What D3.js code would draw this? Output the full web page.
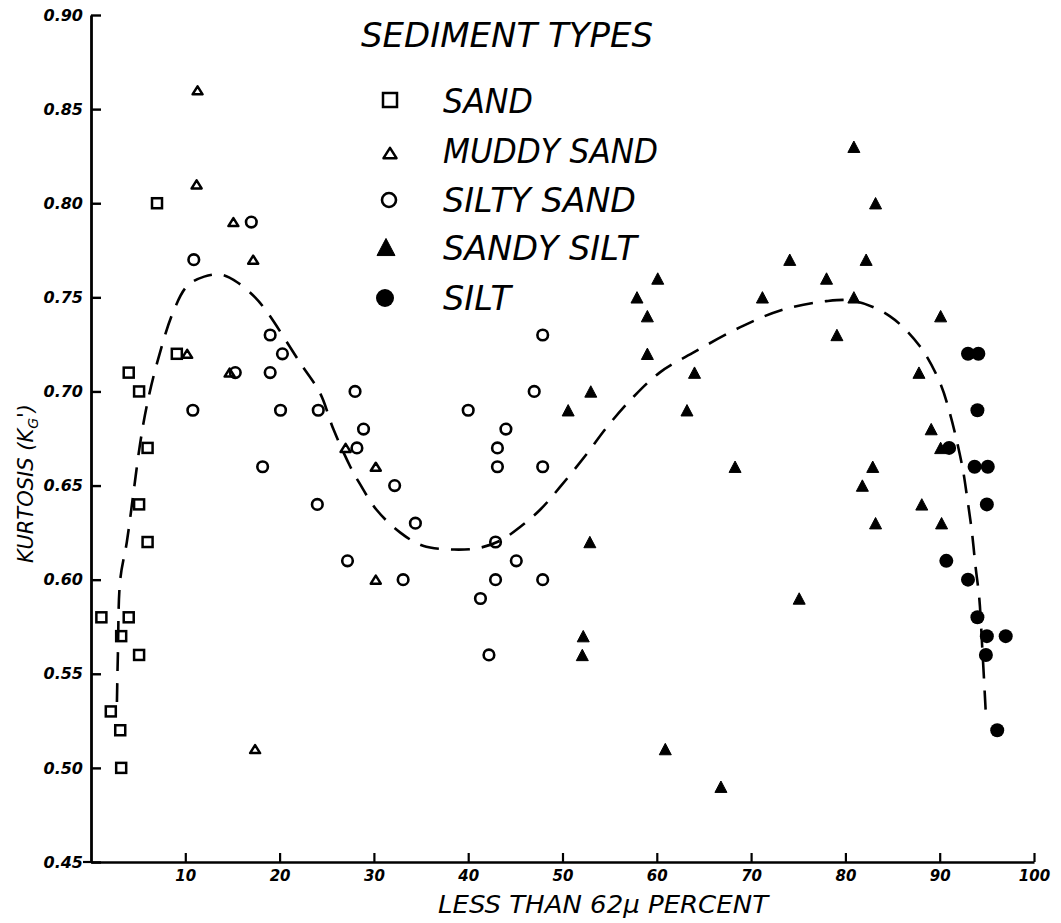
<!DOCTYPE html>
<html>
<head>
<meta charset="utf-8">
<script src="https://cdn.jsdelivr.net/npm/d3@7/dist/d3.min.js"></script>
<style>
  html, body { margin: 0; padding: 0; background: #fff; }
  svg { display: block; }
  text { font-family: "DejaVu Sans", "Liberation Sans", sans-serif; font-style: italic; fill: #000; }
</style>
</head>
<body>
<svg id="chart" width="1061" height="923"></svg>
<script>
// Kurtosis (K_G') against percent finer than 62 microns, by sediment type
const sand = [[1.1,0.58],[4.0,0.58],[3.2,0.57],[5.1,0.56],[2.1,0.53],[3.1,0.52],[3.2,0.50],
  [4.0,0.71],[5.1,0.70],[6.0,0.67],[5.1,0.64],[6.0,0.62],[7.0,0.80],[9.1,0.72]];
const muddySand = [[11.3,0.86],[11.2,0.81],[15.1,0.79],[17.2,0.77],[10.2,0.72],[14.7,0.71],
  [27.0,0.67],[30.2,0.66],[30.2,0.60],[17.4,0.51]];
const siltySand = [[17.0,0.79],[10.9,0.77],[15.3,0.71],[10.8,0.69],[19.0,0.73],[20.3,0.72],
  [19.0,0.71],[20.1,0.69],[24.1,0.69],[18.2,0.66],[24.0,0.64],[27.2,0.61],[28.0,0.70],
  [28.9,0.68],[28.2,0.67],[32.2,0.65],[34.4,0.63],[33.1,0.60],[47.9,0.73],[47.0,0.70],
  [40.0,0.69],[44.0,0.68],[43.1,0.67],[43.1,0.66],[47.9,0.66],[42.9,0.62],[45.1,0.61],
  [42.9,0.60],[47.9,0.60],[41.3,0.59],[42.2,0.56]];
const sandySilt = [[80.9,0.83],[83.2,0.80],[74.1,0.77],[82.2,0.77],[78.0,0.76],[71.2,0.75],
  [80.9,0.75],[90.1,0.74],[79.1,0.73],[64.0,0.71],[87.8,0.71],[57.9,0.75],[59.0,0.74],
  [59.0,0.72],[60.1,0.76],[53.0,0.70],[50.6,0.69],[63.2,0.69],[52.9,0.62],[52.2,0.57],
  [52.1,0.56],[60.9,0.51],[66.8,0.49],[89.1,0.68],[90.1,0.67],[82.9,0.66],[81.8,0.65],
  [88.1,0.64],[83.2,0.63],[90.2,0.63],[68.3,0.66],[75.1,0.59]];
const silt = [[93.0,0.72],[94.1,0.72],[94.0,0.69],[91.0,0.67],[93.7,0.66],[95.1,0.66],
  [95.0,0.64],[90.7,0.61],[93.0,0.60],[94.0,0.58],[95.0,0.57],[97.0,0.57],[94.9,0.56],[96.1,0.52]];

// hand-fitted trend line (dashed)
const trend = [[2.75,0.535],[2.85,0.56],[3.1,0.60],[3.8,0.62],[4.5,0.646],[5.2,0.672],[5.9,0.692],
  [7.0,0.715],[8.7,0.742],[10.2,0.756],[12.0,0.761],[13.8,0.762],[15.5,0.758],[17.4,0.750],
  [18.7,0.742],[22.2,0.715],[24.3,0.699],[25.7,0.68],[27.5,0.660],[28.5,0.651],[30.3,0.637],
  [32.8,0.625],[35.2,0.618],[38.5,0.616],[41.3,0.617],[43.5,0.621],[45.5,0.628],[47.6,0.637],
  [49.7,0.649],[52.6,0.667],[54.7,0.681],[57.5,0.697],[60.3,0.710],[64.0,0.721],[68.8,0.734],
  [73.1,0.743],[78.0,0.748],[81.0,0.748],[84.7,0.740],[87.9,0.724],[90.0,0.705],[91.1,0.688],
  [92.4,0.660],[92.9,0.644],[93.4,0.626],[93.8,0.607],[94.2,0.590],[94.5,0.565],[94.7,0.547],[94.9,0.528]];

const xTicks = [10,20,30,40,50,60,70,80,90,100];
const yTicks = [0.45,0.50,0.55,0.60,0.65,0.70,0.75,0.80,0.85,0.90];
const legendLabels = ["SAND","MUDDY SAND","SILTY SAND","SANDY SILT","SILT"];
const legendTitle = "SEDIMENT  TYPES";
const xTitle = "LESS  THAN 62\u03BC  PERCENT";

const svg = d3.select("#chart");
const x = d3.scaleLinear().domain([0,100]).range([91,1034]);
const y = d3.scaleLinear().domain([0.45,0.90]).range([862,15]);

// axes
const yAxis = d3.axisLeft(y).tickValues(yTicks).tickFormat(d3.format(".2f"))
  .tickSizeInner(-10).tickSizeOuter(0).tickPadding(8);
const gy = svg.append("g").attr("transform","translate(91,0)").call(yAxis);
gy.select(".domain").attr("stroke","#000").attr("stroke-width",2.8);
gy.selectAll(".tick line").attr("stroke","#000").attr("stroke-width",2.4);
gy.selectAll(".tick text").attr("font-size",16).attr("font-family","DejaVu Sans")
  .attr("font-style","italic").attr("font-weight","bold").attr("fill","#000");

const xAxis = d3.axisBottom(x).tickValues(xTicks).tickFormat(d3.format("d"))
  .tickSizeInner(-9).tickSizeOuter(0).tickPadding(8);
const gx = svg.append("g").attr("transform","translate(0,862)").call(xAxis);
gx.select(".domain").attr("stroke","#000").attr("stroke-width",2.6);
gx.selectAll(".tick line").attr("stroke","#000").attr("stroke-width",2.2);
gx.selectAll(".tick text").attr("font-size",15).attr("font-family","DejaVu Sans")
  .attr("font-style","italic").attr("font-weight","bold").attr("fill","#000");
// small outward stub at the origin
svg.append("line").attr("x1",x(0)-8).attr("x2",x(0)).attr("y1",y(0.45)).attr("y2",y(0.45))
  .attr("stroke","#000").attr("stroke-width",2.2);

// axis titles
svg.append("text").attr("x",438).attr("y",913).attr("font-size",25)
  .attr("textLength",330).attr("lengthAdjust","spacingAndGlyphs").text(xTitle);

const yt = svg.append("text").attr("transform","translate(33,563) rotate(-90)")
  .attr("font-size",21);
yt.append("tspan").text("KURTOSIS (K");
yt.append("tspan").attr("font-size",14).attr("dy",5).text("G");
yt.append("tspan").attr("dy",-5).text("')");

// trend curve
const line = d3.line().x(d => x(d[0])).y(d => y(d[1])).curve(d3.curveCatmullRom.alpha(0.5));
svg.append("path").datum(trend).attr("d",line).attr("fill","none")
  .attr("stroke","#000").attr("stroke-width",2.6).attr("stroke-dasharray","19,12");

// symbol painters
function square(g, s){ g.append("rect").attr("x",-s/2).attr("y",-s/2).attr("width",s).attr("height",s)
  .attr("fill","none").attr("stroke","#000").attr("stroke-width",2.5); }
function triOpen(g, s){ const h = s*0.8;
  g.append("path").attr("d",`M0,${-h/2}L${s/2},${h/2}L${-s/2},${h/2}Z`)
   .attr("fill","none").attr("stroke","#000").attr("stroke-width",2.5).attr("stroke-linejoin","round"); }
function circOpen(g, r){ g.append("circle").attr("r",r).attr("fill","none")
  .attr("stroke","#000").attr("stroke-width",2.6); }
function triFill(g, s){ const h = s*0.95;
  g.append("path").attr("d",`M0,${-h/2}L${s/2},${h/2}L${-s/2},${h/2}Z`)
   .attr("fill","#000").attr("stroke","#000").attr("stroke-width",1).attr("stroke-linejoin","round"); }
function circFill(g, r){ g.append("circle").attr("r",r).attr("fill","#000"); }

function plot(data, painter, size){
  svg.append("g").selectAll("g").data(data).join("g")
    .attr("transform", d => `translate(${x(d[0])},${y(d[1])})`)
    .each(function(){ painter(d3.select(this), size); });
}
plot(sand, square, 10);
plot(muddySand, triOpen, 10);
plot(siltySand, circOpen, 5.3);
plot(sandySilt, triFill, 12);
plot(silt, circFill, 7);

// legend
svg.append("text").attr("x",361).attr("y",47).attr("font-size",34)
  .attr("textLength",292).attr("lengthAdjust","spacingAndGlyphs").text(legendTitle);
const legendPainters = [
  [square, 14, 390, 100],
  [triOpen, 13, 390, 153],
  [circOpen, 7, 389, 200],
  [triFill, 18, 386, 247],
  [circFill, 9, 385, 298]
];
const legendBase = [113,163,212,260,310];
const legendWidth = [90,215,193,194,68];
legendLabels.forEach((lab, i) => {
  const [p, s, cx, cy] = legendPainters[i];
  p(svg.append("g").attr("transform",`translate(${cx},${cy})`), s);
  svg.append("text").attr("x",443).attr("y",legendBase[i]).attr("font-size",33)
    .attr("textLength",legendWidth[i]).attr("lengthAdjust","spacingAndGlyphs").text(lab);
});
</script>
</body>
</html>
